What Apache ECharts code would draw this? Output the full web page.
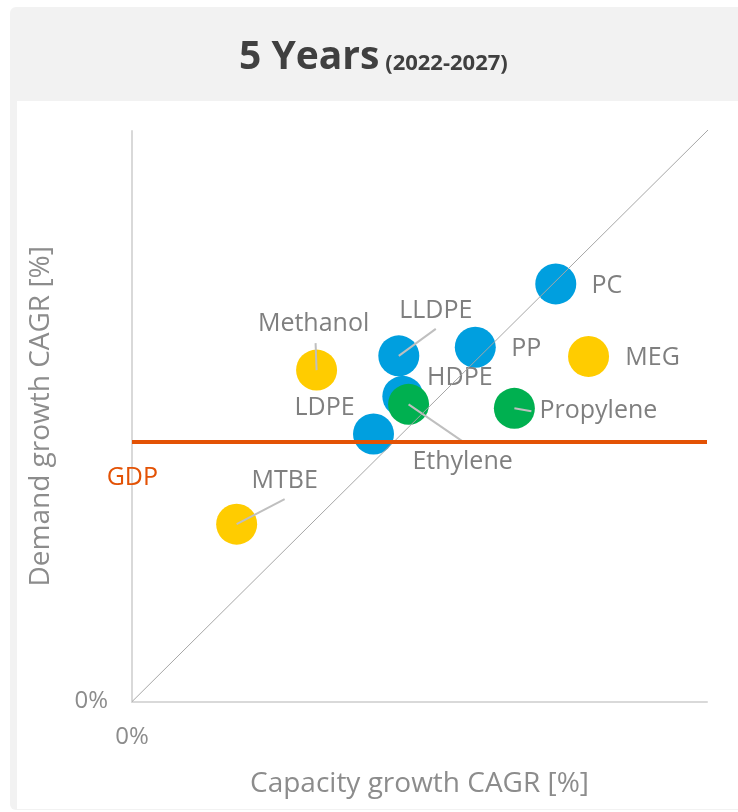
<html>
<head>
    <title>5 Years CAGR</title>
    <script src="https://cdn.jsdelivr.net/npm/echarts@6/dist/echarts.min.js"></script>
    <style>
        body { margin: 0; background: #fff; }
        #panel { position: absolute; left: 10px; top: 7px; width: 740px; height: 803px; background: #f2f2f2; border-radius: 6px; }
        #inner { position: absolute; left: 17px; top: 101px; width: 730px; height: 708px; background: #fff; }
        #main { position: absolute; left: 0; top: 0; width: 738px; height: 812px; }
    </style>
</head>
<body>
<div id="panel"></div>
<div id="inner"></div>
<div id="main"></div>
<script>
    // data (axis units are arbitrary, same scale on both axes)
    var names = ['PC', 'MEG', 'PP', 'LLDPE', 'Methanol', 'HDPE', 'Ethylene', 'Propylene', 'LDPE', 'MTBE'];
    var capacityGrowth = [7.37, 7.94, 5.97, 4.64, 3.21, 4.71, 4.81, 6.65, 4.20, 1.82];
    var demandGrowth = [7.32, 6.05, 6.21, 6.06, 5.81, 5.35, 5.21, 5.14, 4.69, 3.11];
    var groups = ['polymer', 'chemical', 'polymer', 'polymer', 'chemical', 'polymer', 'olefin', 'olefin', 'polymer', 'chemical'];
    var gdpLevel = 4.56;
    var axisTicks = [0];

    var groupColors = { polymer: '#009fdf', chemical: '#ffcc00', olefin: '#00b050' };

    // label placement (px offsets from the bubble centre)
    var labelOffsets = {
        PC: [51, 2], MEG: [64, 1], PP: [51, 2], LLDPE: [37, -45], Methanol: [-3, -46],
        HDPE: [57, -18], Ethylene: [54, 58], Propylene: [84, 3], LDPE: [-49, -26], MTBE: [48, -43]
    };
    // leader lines (px, from bubble centre)
    var leaderLines = {
        LLDPE: [37, -27], Methanol: [-1, -27], Ethylene: [54, 37], Propylene: [17, 3], MTBE: [48, -25]
    };

    var labelFont = 'Open Sans';
    var points = names.map(function (n, i) {
        return {
            name: n,
            value: [capacityGrowth[i], demandGrowth[i]],
            itemStyle: { color: groupColors[groups[i]], opacity: 1 },
            label: { offset: labelOffsets[n] }
        };
    });

    var myChart = echarts.init(document.getElementById('main'));
    myChart.setOption({
        animation: false,
        title: {
            left: 234,
            top: 17,
            text: '{a|5 Years}{b| (2022-2027)}',
            textStyle: {
                rich: {
                    a: { fontFamily: labelFont, fontWeight: 'bold', fontSize: 39, color: '#404040' },
                    b: { fontFamily: labelFont, fontWeight: 'bold', fontSize: 22, color: '#404040', padding: [12, 0, 0, 0] }
                }
            }
        },
        grid: { left: 132, right: 31, top: 131, bottom: 107 },
        xAxis: {
            type: 'value', min: 0, max: 10, interval: 10,
            name: 'Capacity growth CAGR [%]', nameLocation: 'middle', nameGap: 47,
            nameTextStyle: { fontFamily: labelFont, fontSize: 28, color: '#8c8c8c' },
            axisLine: { lineStyle: { color: '#d9d9d9', width: 2 } },
            axisTick: { show: false },
            splitLine: { show: false },
            axisLabel: {
                margin: 16, fontFamily: labelFont, fontSize: 24, color: '#8c8c8c',
                formatter: function (v) { return axisTicks.indexOf(v) >= 0 ? v + '%' : ''; }
            }
        },
        yAxis: {
            type: 'value', min: 0, max: 10, interval: 10,
            name: 'Demand growth CAGR [%]', nameLocation: 'middle', nameGap: 55,
            nameTextStyle: { fontFamily: labelFont, fontSize: 28, color: '#8c8c8c' },
            axisLine: { show: true, lineStyle: { color: '#d9d9d9', width: 2 } },
            axisTick: { show: false },
            splitLine: { show: false },
            axisLabel: {
                margin: 24, fontFamily: labelFont, fontSize: 24, color: '#8c8c8c',
                formatter: function (v) { return axisTicks.indexOf(v) >= 0 ? v + '%' : ''; }
            }
        },
        series: [
            {
                // GDP reference line
                type: 'line', data: [], z: 1, silent: true,
                markLine: {
                    symbol: 'none', silent: true,
                    data: [{ yAxis: gdpLevel }],
                    lineStyle: { color: '#e35205', width: 4, type: 'solid' },
                    label: {
                        formatter: 'GDP', position: 'start', offset: [31, 36],
                        fontFamily: labelFont, fontSize: 25, color: '#e35205'
                    }
                }
            },
            {
                type: 'scatter', z: 2, symbolSize: 41,
                data: points,
                label: {
                    show: true, position: 'inside', formatter: '{b}',
                    fontFamily: labelFont, fontSize: 25, color: '#7f7f7f'
                }
            },
            {
                type: 'custom', z: 3, silent: true,
                data: names.map(function (n, i) { return [capacityGrowth[i], demandGrowth[i]]; }),
                encode: { x: 0, y: 1 },
                renderItem: function (params, api) {
                    var off = leaderLines[names[params.dataIndex]];
                    if (!off) return null;
                    var p = api.coord([api.value(0), api.value(1)]);
                    return {
                        type: 'line',
                        shape: { x1: p[0], y1: p[1], x2: p[0] + off[0], y2: p[1] + off[1] },
                        style: { stroke: '#bfbfbf', lineWidth: 2 }
                    };
                }
            },
            {
                // 45 degree line (capacity growth = demand growth)
                type: 'line', z: 4, silent: true, clip: false, symbol: 'none',
                data: [[0, 0], [10.15, 10.15]],
                lineStyle: { color: '#a6a6a6', width: 1 }
            }
        ]
    });
</script>
</body>
</html>
